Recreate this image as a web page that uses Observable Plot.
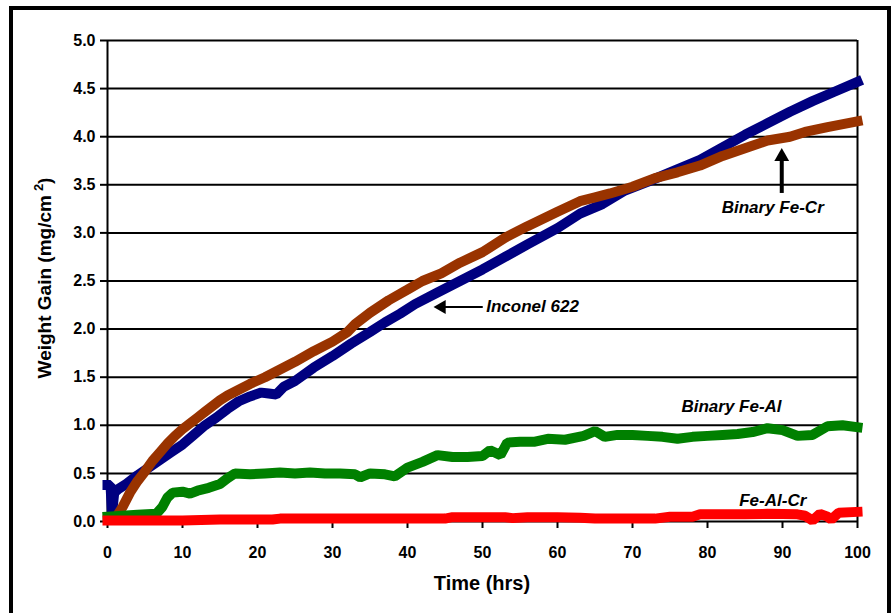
<!DOCTYPE html>
<html>
<head>
<meta charset="utf-8">
<script src="https://cdn.jsdelivr.net/npm/d3@7"></script>
<script src="https://cdn.jsdelivr.net/npm/@observablehq/plot@0.6"></script>
<style>
  html, body { margin: 0; padding: 0; background: #fff; overflow: hidden; }
  #wrap { position: relative; width: 891px; height: 613px; }
  #frame { position: absolute; left: 9px; top: 6px; width: 882px; height: 700px; box-sizing: border-box; border: 4.5px solid #000; pointer-events: none; }
</style>
</head>
<body>
<div id="wrap"><div id="chart"></div><div id="frame"></div></div>
<script>
// ---- Data ----
const inconelTime = [0, 0.4, 0.6, 0.9, 1.5, 2.5, 4, 5.5, 7, 8.5, 10, 11.5, 13, 14.5, 16, 17.5, 19, 20.5, 21.5, 22.5, 23.5, 25, 27.5, 30, 32.5, 35, 37, 39, 41, 44, 47, 50, 53, 56, 60, 63, 66, 69, 72, 75, 79, 82, 85, 88, 91, 94, 97, 100];
const inconelGain = [0.38, 0.38, 0.08, 0.3, 0.34, 0.39, 0.48, 0.56, 0.64, 0.72, 0.8, 0.9, 1.0, 1.08, 1.17, 1.25, 1.3, 1.34, 1.33, 1.32, 1.4, 1.46, 1.6, 1.72, 1.85, 1.97, 2.07, 2.16, 2.26, 2.38, 2.5, 2.62, 2.75, 2.88, 3.05, 3.2, 3.3, 3.44, 3.53, 3.63, 3.76, 3.89, 4.02, 4.14, 4.26, 4.37, 4.47, 4.57];

const feCrTime = [1.2, 2, 3, 4, 5, 6, 7, 8, 9, 10, 11, 12, 13, 14, 15, 16, 17.5, 19, 21, 23, 25, 27.5, 30, 32, 33, 35, 37.5, 40, 42, 44.5, 47, 50, 53, 56, 60, 63, 65, 67, 70, 73, 76, 79, 82, 85, 88, 91, 93, 96, 100];
const feCrGain = [0.05, 0.15, 0.3, 0.42, 0.52, 0.63, 0.72, 0.81, 0.89, 0.96, 1.02, 1.08, 1.14, 1.2, 1.26, 1.31, 1.37, 1.43, 1.5, 1.58, 1.66, 1.77, 1.87, 1.97, 2.05, 2.17, 2.3, 2.41, 2.5, 2.58, 2.69, 2.8, 2.95, 3.07, 3.22, 3.33, 3.37, 3.41, 3.48, 3.57, 3.63, 3.7, 3.8, 3.88, 3.96, 4.0, 4.05, 4.1, 4.16];

const feAlTime = [0, 2, 4, 6.5, 7.3, 8, 8.7, 10, 11, 12, 13.5, 15, 16, 17, 19, 21, 23, 25, 27, 29, 31, 33, 33.7, 35, 37, 38.3, 40, 42, 44, 46, 48, 50, 51, 52.4, 53.3, 55, 57, 58.7, 61, 63.5, 65, 66.3, 68, 70, 72, 74, 76, 78, 80, 82, 84, 86, 88, 90, 92, 94, 96, 98, 100];
const feAlGain = [0.05, 0.06, 0.07, 0.08, 0.15, 0.25, 0.3, 0.31, 0.29, 0.32, 0.35, 0.39, 0.45, 0.5, 0.49, 0.5, 0.51, 0.5, 0.51, 0.5, 0.5, 0.49, 0.46, 0.5, 0.49, 0.47, 0.56, 0.62, 0.69, 0.67, 0.67, 0.68, 0.74, 0.69, 0.82, 0.83, 0.83, 0.86, 0.85, 0.89, 0.94, 0.88, 0.9, 0.9, 0.89, 0.88, 0.86, 0.88, 0.89, 0.9, 0.91, 0.93, 0.97, 0.95, 0.89, 0.9, 0.99, 1.0, 0.98];

const feAlCrTime = [0, 5, 10, 15, 20, 22, 23, 30, 35, 40, 45, 46, 50, 53, 54, 56, 60, 63, 65, 70, 73, 75, 78, 79, 85, 88, 92, 93, 94, 95, 96, 96.5, 97.5, 100];
const feAlCrGain = [0.01, 0.01, 0.01, 0.02, 0.02, 0.02, 0.03, 0.03, 0.03, 0.03, 0.03, 0.045, 0.045, 0.045, 0.035, 0.045, 0.045, 0.04, 0.03, 0.03, 0.03, 0.05, 0.05, 0.075, 0.075, 0.08, 0.075, 0.06, 0.01, 0.08, 0.05, 0.02, 0.09, 0.1];

const seriesNames = ["Inconel 622", "Binary Fe-Cr", "Binary Fe-Al", "Fe-Al-Cr"];
const seriesColors = ["#000080", "#993300", "#008000", "#FF0000"];

const xTicks = [0, 10, 20, 30, 40, 50, 60, 70, 80, 90, 100];
const yTicks = [0, 0.5, 1.0, 1.5, 2.0, 2.5, 3.0, 3.5, 4.0, 4.5, 5.0];

const xTitle = "Time (hrs)";
const yTitle = "Weight Gain (mg/cm";

// ---- Build tables ----
const rows = (t, g) => t.map((x, i) => ({x, y: g[i]}));
const series = [
  rows(inconelTime, inconelGain),
  rows(feCrTime, feCrGain),
  rows(feAlTime, feAlGain),
  rows(feAlCrTime, feAlCrGain)
];

const font = "'Liberation Sans', Arial, Helvetica, sans-serif";

const chart = Plot.plot({
  width: 891,
  height: 613,
  marginLeft: 107,
  marginRight: 34,
  marginTop: 40,
  marginBottom: 92,
  style: {fontFamily: font, fontSize: "16px", fontWeight: "bold", color: "#000", background: "transparent"},
  x: {domain: [0, 100]},
  y: {domain: [0, 5]},
  marks: [
    Plot.ruleY(yTicks.filter(d => d > 0), {stroke: "#000", strokeWidth: 2}),
    Plot.ruleX([0, 100], {stroke: "#000", strokeWidth: 2}),
    Plot.ruleY([0], {stroke: "#000", strokeWidth: 2}),
    Plot.axisY({ticks: yTicks, tickFormat: d3.format(".1f"), tickSize: 7, tickPadding: 5, strokeWidth: 2, stroke: "#000", fontSize: 16, fontWeight: "bold", label: null}),
    Plot.axisX({ticks: xTicks, tickFormat: d3.format("d"), tickSize: 7, tickPadding: 18, strokeWidth: 2, stroke: "#000", fontSize: 16, fontWeight: "bold", label: null}),
    ...series.map((s, i) => Plot.line(s, {x: "x", y: "y", stroke: seriesColors[i], strokeWidth: 10, strokeLinecap: "square", strokeLinejoin: "miter"})),
    // annotations
    Plot.ruleY([2.23], {x1: 44.55, x2: 50.1, stroke: "#000", strokeWidth: 2}),
    Plot.dot([{x: 44.55, y: 2.23}], {x: "x", y: "y", symbol: "triangle", r: 5.2, fill: "#000", stroke: null, rotate: -90}),
    Plot.text([seriesNames[0]], {x: 50.5, y: 2.23, text: d => d, textAnchor: "start", fontSize: 17, fontStyle: "italic", fontWeight: "bold", fill: "#000"}),
    Plot.ruleX([89.9], {y1: 3.41, y2: 3.79, stroke: "#000", strokeWidth: 4}),
    Plot.dot([{x: 89.9, y: 3.793}], {x: "x", y: "y", symbol: "triangle", r: 5.5, fill: "#000", stroke: null}),
    Plot.text([seriesNames[1]], {x: 88.7, y: 3.26, text: d => d, fontSize: 17, fontStyle: "italic", fontWeight: "bold", fill: "#000"}),
    Plot.text([seriesNames[2]], {x: 83.2, y: 1.2, text: d => d, fontSize: 17, fontStyle: "italic", fontWeight: "bold", fill: "#000"}),
    Plot.text([seriesNames[3]], {x: 88.7, y: 0.22, text: d => d, fontSize: 17, fontStyle: "italic", fontWeight: "bold", fill: "#000"})
  ]
});

document.getElementById("chart").appendChild(chart);

// axis titles (real text), y title needs a superscript
const svg = d3.select(chart);
svg.append("text")
  .attr("x", 482).attr("y", 590)
  .attr("text-anchor", "middle")
  .style("font-family", font).style("font-size", "20px").style("font-weight", "bold")
  .attr("fill", "#000")
  .text(xTitle);

const yt = svg.append("text")
  .attr("transform", "translate(51,278) rotate(-90)")
  .attr("text-anchor", "middle")
  .style("font-family", font).style("font-size", "19px").style("font-weight", "bold")
  .attr("fill", "#000");
yt.append("tspan").text(yTitle);
yt.append("tspan").attr("dx", 4).attr("dy", -8).style("font-size", "13px").text("2");
yt.append("tspan").attr("dy", 8).text(")");
</script>
</body>
</html>
